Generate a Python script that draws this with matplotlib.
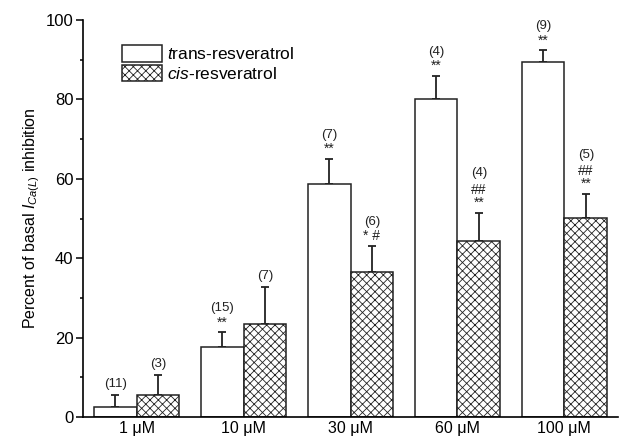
import numpy as np
import matplotlib
matplotlib.use("Agg")
import matplotlib.pyplot as plt

plt.rcParams['font.family'] = ['Liberation Sans', 'DejaVu Sans']
plt.rcParams['mathtext.fontset'] = 'custom'
plt.rcParams['mathtext.rm'] = 'Liberation Sans'
plt.rcParams['mathtext.it'] = 'Liberation Sans:italic'
plt.rcParams['hatch.linewidth'] = 0.6
plt.rcParams['hatch.color'] = '0.25'

# data
doses = ['1 μM', '10 μM', '30 μM', '60 μM', '100 μM']
trans_mean = [2.6, 17.7, 58.7, 80.1, 89.5]
trans_err = [2.9, 3.6, 6.3, 5.8, 2.9]
cis_mean = [5.5, 23.3, 36.6, 44.3, 50.1]
cis_err = [5.1, 9.5, 6.5, 7.2, 6.1]
trans_n = ['(11)', '(15)', '(7)', '(4)', '(9)']
cis_n = ['(3)', '(7)', '(6)', '(4)', '(5)']
trans_sig = [[], ['**'], ['**'], ['**'], ['**']]
cis_sig = [[], [], ['* #'], ['**', '##'], ['**', '##']]

x = np.arange(len(doses))
w = 0.4

fig = plt.figure(figsize=(6.21, 4.37), dpi=100)
ax = fig.add_axes([0.134, 0.046, 0.861, 0.908])

ax.bar(x - w / 2, trans_mean, w, color='white', edgecolor='#222222',
       linewidth=1.1, label='$\\mathit{t}$rans-resveratrol', zorder=2)
ax.bar(x + w / 2, cis_mean, w, color='white', edgecolor='#222222',
       linewidth=1.1, hatch='xxxx', label='$\\mathit{cis}$-resveratrol', zorder=2)
ax.errorbar(x - w / 2, trans_mean, yerr=[np.zeros(5), trans_err], fmt='none',
            ecolor='#222222', elinewidth=1.3, capsize=3, capthick=1.3, zorder=1)
ax.errorbar(x + w / 2, cis_mean, yerr=[np.zeros(5), cis_err], fmt='none',
            ecolor='#222222', elinewidth=1.3, capsize=3, capthick=1.3, zorder=1)


def label_bar(xpos, top, sigs, n):
    off = 2
    for s in sigs:
        ax.annotate(s, (xpos, top), xytext=(0, off), textcoords='offset points',
                    ha='center', va='bottom', fontsize=10, color='#222222')
        off += 9.5
    extra = 3 if len(sigs) > 1 else 1.5
    ax.annotate(n, (xpos, top), xytext=(0, off + extra), textcoords='offset points',
                ha='center', va='bottom', fontsize=9.5, color='#222222')


for i in range(len(doses)):
    label_bar(x[i] - w / 2, trans_mean[i] + trans_err[i], trans_sig[i], trans_n[i])
    label_bar(x[i] + w / 2, cis_mean[i] + cis_err[i], cis_sig[i], cis_n[i])

ax.set_xlim(-0.5, 4.5)
ax.set_ylim(0, 100)
ax.set_xticks(x)
ax.set_xticklabels(doses, fontsize=11.5)
ax.tick_params(axis='x', length=0, pad=3)
ax.set_yticks(np.arange(0, 101, 20))
ax.set_yticks(np.arange(10, 100, 20), minor=True)
ax.tick_params(axis='y', which='major', length=5, width=1.1, labelsize=12, pad=2)
ax.tick_params(axis='y', which='minor', length=2.5, width=1.1)
ax.spines['top'].set_visible(False)
ax.spines['right'].set_visible(False)
ax.spines['left'].set_linewidth(1.2)
ax.spines['bottom'].set_linewidth(1.2)
ax.set_ylabel('Percent of basal $\\mathit{I}_{\\mathit{Ca(L)}}$ inhibition', fontsize=11.5, labelpad=3)

ax.legend(loc='upper left', bbox_to_anchor=(0.06, 0.955), frameon=False,
          fontsize=12.5, handlelength=2.3, handleheight=1.1, handletextpad=0.3,
          labelspacing=0.15, borderaxespad=0, borderpad=0.4)

fig.savefig('out.png', dpi=100)
